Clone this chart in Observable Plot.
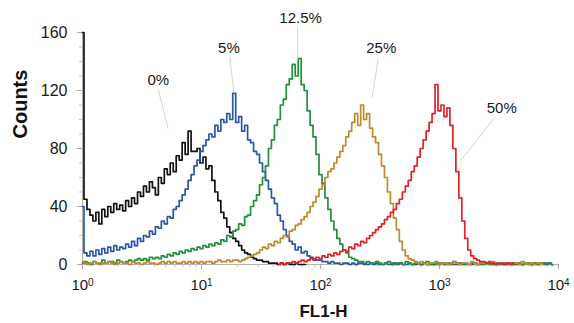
<!DOCTYPE html>
<html><head><meta charset="utf-8">
<script src="https://cdn.jsdelivr.net/npm/d3@7"></script>
<script src="https://cdn.jsdelivr.net/npm/@observablehq/plot@0.6"></script>
<style>
body{margin:0;background:#fff;}
#chart svg{font-family:"Liberation Sans",Arial,sans-serif;}
</style></head><body><div id="chart"></div>
<script>
// FL1-H histogram channels: 40 bins per decade on a log axis
const binStepDecades = 0.025;

const black = [160,
  45,38,34,30,36,28,38,33,40,
  36,42,38,41,37,44,40,46,42,50,
  47,54,50,57,53,48,60,56,66,62,
  70,64,75,72,84,76,92,78,78,80,
  70,74,66,68,58,50,44,36,32,26,
  22,18,16,13,10,8,7,5,4,3,
  3,2,2,1,1,1,0,1,0,1,0,0,1,0,0,0];

const blue = [40,
  8,6,9,6,10,7,11,8,12,9,
  13,10,12,11,14,12,16,13,18,16,
  20,19,23,21,26,25,30,28,33,32,
  38,40,44,48,52,58,62,68,72,78,
  82,86,90,88,96,92,100,98,104,100,
  118,98,102,92,96,86,84,78,76,70,
  64,58,52,46,42,34,30,24,20,16,
  14,10,12,8,9,6,5,4,3,3,
  2,2,1,2,1,1,0,1,1,0,
  1,0,1,1,0,0,1,0,1,0, 0,1,0,0,1,0,1,0,0,1,
  0,0,1,0,1,0,0,0,1,0, 1,0,0,1,0,0,1,0,1,0,
  0,1,0,0,1,1,0,0,1,0, 0,1,0,1,0,0,1,0,1,0,
  0,1,0,1,1,0,1,0];

const green = [1,2,1,0,2,1,1,3,1,2,
  2,1,3,2,1,2,3,2,3,4,
  3,4,3,5,4,5,4,6,5,7,
  6,8,7,9,8,10,9,11,10,12,
  11,13,12,14,13,15,14,17,16,20,
  19,23,24,28,27,33,34,40,44,48,
  55,60,68,80,86,96,100,110,114,124,
  128,138,130,142,124,120,106,96,88,76,
  62,56,46,38,30,24,18,14,10,8,
  5,4,3,2,2,1,2,1,1,2,
  1,0,1,2,1,0,1,1,0,2, 1,0,1,1,0,1,2,0,1,0,
  1,1,0,1,0,2,1,0,1,0, 0,1,1,0,1,0,1,2,0,1,
  0,1,0,1,1,0,1,0,0,1, 1,0,1,0,1,0,1,1,0];

const orange = [2,1,0,1,2,1,0,1,1,2,
  1,0,1,2,1,1,0,2,1,1,
  0,1,2,1,1,0,1,2,1,2,
  1,2,1,1,2,1,2,1,2,1,
  2,1,2,2,1,2,3,2,2,3,
  2,3,3,2,3,4,5,6,7,8,
  10,12,11,14,13,16,15,18,20,19,
  23,24,27,28,31,33,36,40,43,47,
  52,55,60,64,66,70,74,78,82,88,
  92,98,104,96,110,100,104,94,88,84,
  76,68,60,50,42,32,24,16,10,6,
  4,3,2,1,2,1,0,1,1,2,
  0,1,1,0,1,2,1,0,1,1,
  0,2,1,0,1,1,0,1,2,0,
  1,1,0,1,0,1,1,0,2,1,
  0,1,0,1,1,0];

const red = [0,1,0,1,
  1,2,1,2,3,2,3,4,3,5,
  4,6,5,7,6,8,7,9,10,9,
  12,11,14,13,16,15,18,20,22,24,
  26,28,31,33,36,38,42,45,50,54,
  58,64,68,74,80,86,92,98,104,124,
  106,110,102,108,96,80,64,46,30,18,
  10,6,4,3,2,2,1,1,
  1,0,1,1,0,1,0,1];

const seriesNames = ["0%", "5%", "12.5%", "25%", "50%"];
const seriesFirstBin = [0, 0, 0, 0, 66];
const seriesColors = ["#111111", "#2a58a6", "#22903a", "#c08a2c", "#e2202a"];

const yTicks = [0, 40, 80, 120, 160];
const yMinorTicks = [10, 20, 30, 50, 60, 70, 90, 100, 110, 130, 140, 150];
const xTicks = [1, 10, 100, 1000, 10000];
const xTickExponents = ["0", "1", "2", "3", "4"];
const xMinorMultipliers = [2, 3, 4, 5, 6, 7, 8, 9];

// annotation labels (FL1-H value, count) and leader lines
const labelText = ["0%", "5%", "12.5%", "25%", "50%"];
const labelX = [4.33, 17.0, 68.0, 324, 3334];
const labelY = [127, 149, 170, 149, 108];
const leaderX1 = [4.33, 17.3, 64.2, 305.6, 2859];
const leaderY1 = [120.7, 142.8, 164, 142, 100.7];
const leaderX2 = [5.24, 18.7, 64.2, 272, 1513];
const leaderY2 = [93.8, 118.6, 140.7, 115.2, 71.7];

const seriesValues = [black, blue, green, orange, red];
const table = seriesValues.flatMap((vals, s) => vals.map((c, j) => ({
  fl1: 10 ** ((seriesFirstBin[s] + j) * binStepDecades), count: c, series: seriesNames[s]
})));
const labels = labelText.map((t, i) => ({text: t, x: labelX[i], y: labelY[i],
  x1: leaderX1[i], y1: leaderY1[i], x2: leaderX2[i], y2: leaderY2[i]}));
const xMinor = [1, 10, 100, 1000].flatMap(d => xMinorMultipliers.map(m => d * m));

const svg = Plot.plot({
  width: 574, height: 323,
  marginLeft: 82, marginRight: 16, marginTop: 32, marginBottom: 59,
  style: {fontFamily: "Liberation Sans, Arial, sans-serif", fontSize: "15px", color: "#222", background: "#fff"},
  x: {type: "log", domain: [1, 10000]},
  y: {domain: [0, 160]},
  color: {domain: seriesNames, range: seriesColors},
  marks: [
    Plot.ruleX([1], {stroke: "#b0b0b0"}),
    Plot.ruleY([0], {stroke: "#b0b0b0"}),
    Plot.axisY(yMinorTicks, {tickSize: 3, text: null, stroke: "#c4c4c4", label: null}),
    Plot.axisY(yTicks, {tickSize: 5, tickPadding: 10, stroke: "#aaa", fontSize: 16, fill: "#1a1a1a", label: null}),
    Plot.axisX(xMinor, {tickSize: 3, text: null, stroke: "#c4c4c4", label: null}),
    Plot.axisX(xTicks, {tickSize: 5, tickPadding: 10, stroke: "#aaa", fontSize: 15, fill: "#1a1a1a", label: null,
      tickFormat: (d) => "10|" + xTickExponents[xTicks.indexOf(d)]}),
    Plot.line(table, {x: "fl1", y: "count", z: "series", stroke: "series", strokeWidth: 1.7, curve: "step"}),
    Plot.link(labels, {x1: "x1", y1: "y1", x2: "x2", y2: "y2", stroke: "#c8c8c8", strokeWidth: 0.8}),
    Plot.text(labels, {x: "x", y: "y", text: "text", fontSize: 15, fill: "#1a1a1a"}),
    Plot.text(["Counts"], {frameAnchor: "left", text: d => d, dx: -62, dy: -10, rotate: -90,
      fontSize: 20, fontWeight: "bold", fill: "#111"}),
    Plot.text(["FL1-H"], {frameAnchor: "bottom", text: d => d, dx: 3, dy: 47, lineAnchor: "middle",
      fontSize: 17, fontWeight: "bold", fill: "#111"})
  ]
});

// render tick labels as 10 with superscript exponent
svg.querySelectorAll('g[aria-label="x-axis tick label"] text').forEach(t => {
  const parts = t.textContent.split("|");
  if (parts.length !== 2) return;
  t.textContent = "";
  const base = document.createElementNS("http://www.w3.org/2000/svg", "tspan");
  base.textContent = parts[0];
  const sup = document.createElementNS("http://www.w3.org/2000/svg", "tspan");
  sup.textContent = parts[1];
  sup.setAttribute("dy", "-0.45em");
  sup.setAttribute("font-size", "10");
  t.appendChild(base); t.appendChild(sup);
});
document.getElementById("chart").appendChild(svg);
</script></body></html>
